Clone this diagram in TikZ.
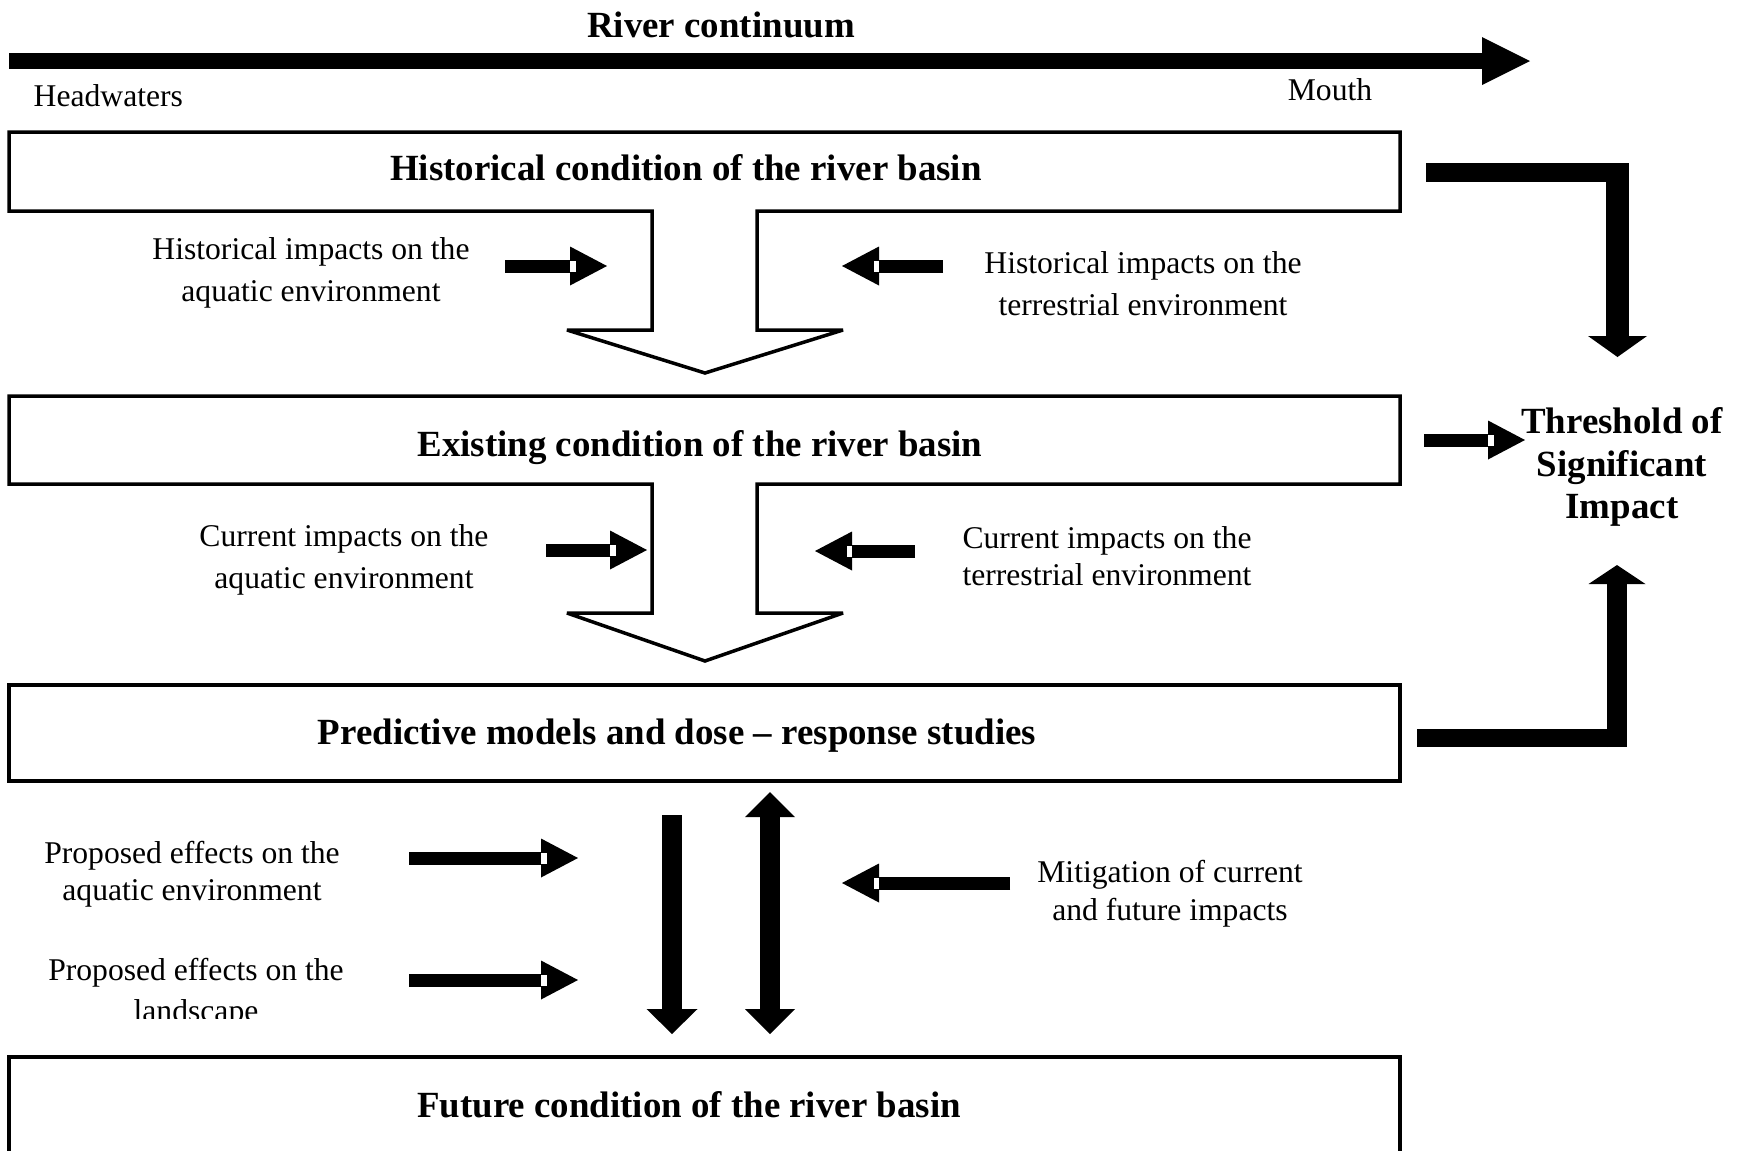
\documentclass[tikz,border=0pt]{standalone}
\usepackage{fontspec}
\setmainfont{Liberation Serif}
\usetikzlibrary{arrows.meta,calc}
\begin{document}
\begin{tikzpicture}[x=0.1mm,y=-0.1mm,
    outline/.style={line width=0.35mm,line join=miter,miter limit=2},
    title/.style={font=\fontsize{10.5}{12.2}\selectfont\bfseries,align=center,inner sep=0pt},
    note/.style={font=\fontsize{9}{11.9}\selectfont,align=center,inner sep=0pt},
    fat/.style={line width=1.3mm,-{Triangle[length=3.7mm,width=3.9mm,line width=0pt]}},
    notch/.style={white,line width=1.1mm},
    bar/.style={line width=2mm}]
  \path[use as bounding box,clip] (0,0) rectangle (1741,1150);

  \node[title,anchor=base] (river) at (721,37) {River continuum};
  \node[note,anchor=base west] (hw) at (33,106) {Headwaters};
  \node[note,anchor=base] (mouth) at (1330,100) {Mouth};
  \coordinate (src) at (9,61);
  \coordinate (sea) at (1530,61);
  \draw[line width=1.6mm,-{Triangle[length=4.8mm,width=4.8mm,line width=0pt]}] (src) -- (sea);

  \draw[outline] (9,211) -- (9,132) -- (1400,132) -- (1400,211) -- (757,211) -- (757,330) -- (843,330)
    -- (705,373) -- (567,330) -- (652,330) -- (652,211) -- cycle;
  \node[title,anchor=base] (hist) at (686,180) {Historical condition of the river basin};
  \draw[outline] (9,484) -- (9,396) -- (1400,396) -- (1400,484) -- (757,484) -- (757,613) -- (843,613)
    -- (705,661) -- (567,613) -- (652,613) -- (652,484) -- cycle;
  \node[title,anchor=base] (exist) at (700,456) {Existing condition of the river basin};
  \draw[outline] (9,685) rectangle (1400,781);
  \node[title,anchor=base] (pred) at (677,744) {Predictive models and dose -- response studies};
  \draw[outline] (9,1057) rectangle (1400,1170);
  \node[title,anchor=base] (future) at (689,1117) {Future condition of the river basin};

  \node[note,font=\fontsize{9}{12.1}\selectfont] (hia) at (311,273) {Historical impacts on the\\aquatic environment};
  \node[note] (hit) at (1143,284) {Historical impacts on the\\terrestrial environment};
  \node[note] (cia) at (344,560) {Current impacts on the\\aquatic environment};
  \node[note,font=\fontsize{9}{10.5}\selectfont] (cit) at (1107,556) {Current impacts on the\\terrestrial environment};
  \node[note,font=\fontsize{9}{10.4}\selectfont] (pea) at (192,874) {Proposed effects on the\\aquatic environment};
  \begin{scope}
    \clip (0,0) rectangle (1741,1018);
    \node[note,font=\fontsize{9}{11.6}\selectfont] (pel) at (196,993) {Proposed effects on the\\landscape};
  \end{scope}
  \node[note,font=\fontsize{9}{10.9}\selectfont] (mit) at (1170,894) {Mitigation of current\\and future impacts};
  \node[title] (thresh) at (1622,467) {Threshold of\\Significant\\Impact};

  \coordinate (hia0) at (505,266);  \coordinate (hia1) at (607,266);
  \coordinate (hit0) at (943,266);  \coordinate (hit1) at (842,266);
  \coordinate (cia0) at (546,550);  \coordinate (cia1) at (647,550);
  \coordinate (cit0) at (915,551);  \coordinate (cit1) at (815,551);
  \coordinate (pea0) at (409,858);  \coordinate (pea1) at (578,858);
  \coordinate (pel0) at (409,980);  \coordinate (pel1) at (578,980);
  \coordinate (mit0) at (1010,883); \coordinate (mit1) at (842,883);
  \coordinate (exist0) at (1424,440); \coordinate (exist1) at (1525,440);
  \foreach \a/\b in {hia0/hia1,hit0/hit1,cia0/cia1,cit0/cit1,pea0/pea1,pel0/pel1,mit0/mit1,exist0/exist1}{
    \draw[fat] (\a) -- (\b);
    \draw[notch] ($(\b)!3.7mm!(\a)$) -- ($(\b)!3.15mm!(\a)$);
  }

  \coordinate (hist0) at (1426,172.5); \coordinate (hist1) at (1629,172.5);
  \coordinate (hist2) at (1617.5,163); \coordinate (hist3) at (1617.5,357);
  \draw[line width=1.9mm] (hist0) -- (hist1);
  \draw[line width=2.3mm,-{Triangle[length=2.1mm,width=5.9mm,line width=0pt]}] (hist2) -- (hist3);

  \coordinate (pred0) at (1417,738); \coordinate (pred1) at (1627,738);
  \coordinate (pred2) at (1617,747); \coordinate (pred3) at (1617,565);
  \draw[line width=1.8mm] (pred0) -- (pred1);
  \draw[line width=2mm,-{Triangle[length=1.9mm,width=5.7mm,line width=0pt]}] (pred2) -- (pred3);

  \coordinate (down0) at (672,815);  \coordinate (down1) at (672,1034);
  \coordinate (both0) at (770,792);  \coordinate (both1) at (770,1034);
  \draw[bar,-{Triangle[length=2.5mm,width=5.1mm,line width=0pt]}] (down0) -- (down1);
  \draw[bar,{Triangle[length=2.5mm,width=5mm,line width=0pt]}-{Triangle[length=2.5mm,width=5mm,line width=0pt]}] (both0) -- (both1);
\end{tikzpicture}
\end{document}
